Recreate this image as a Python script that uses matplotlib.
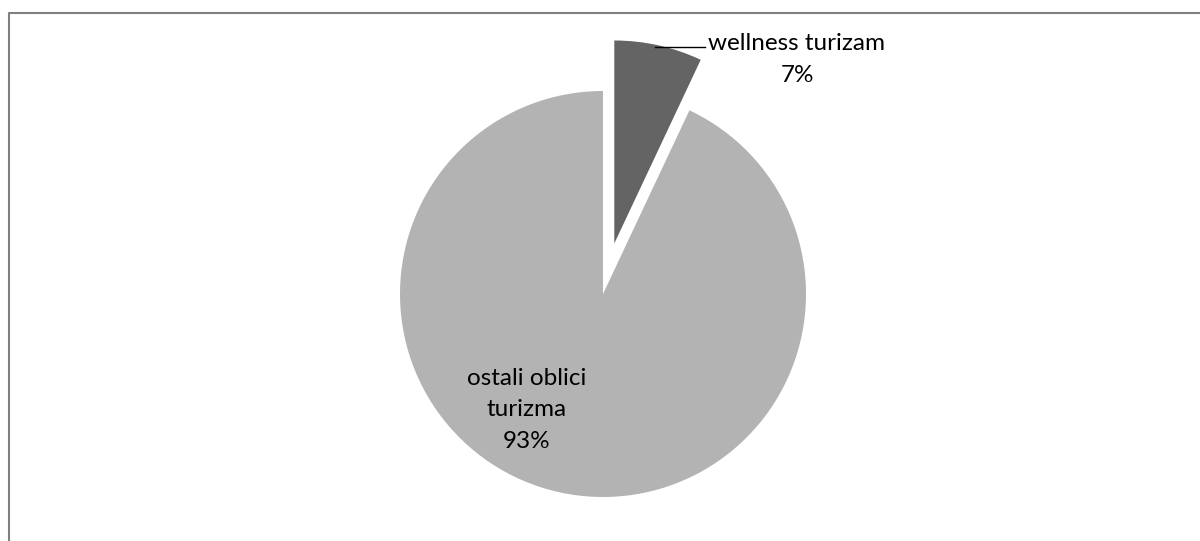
import matplotlib.pyplot as plt

# Data
labels = ["wellness turizam", "ostali oblici turizma"]
shares = [7, 93]
colors = ["#646464", "#b3b3b3"]
explode = [0.255, 0]

plt.rcParams['font.family'] = ['Lato', 'DejaVu Sans']
W, H = 1200, 541

fig = plt.figure(figsize=(12, 5.41), dpi=100)

# pie axes: centre (603, 294) px, radius 203 px
cx, cy, r = 603, 294, 203
pax = fig.add_axes([(cx - r) / W, (H - cy - r) / H, 2 * r / W, 2 * r / H])
wedges, _ = pax.pie(shares, colors=colors, explode=explode, startangle=90,
                    counterclock=False, radius=1,
                    wedgeprops=dict(linewidth=0))
for w in wedges:
    w.set_clip_on(False)
pax.set_xlim(-1, 1)
pax.set_ylim(-1, 1)
pax.axis('off')

# overlay axes in pixel coordinates for labels and border
ax = fig.add_axes([0, 0, 1, 1])
ax.set_xlim(0, W)
ax.set_ylim(H, 0)
ax.axis('off')
ax.patch.set_alpha(0)

# data labels
ax.text(796, 43, labels[0], ha='center', va='center', fontsize=17.5)
ax.text(797, 75, f"{shares[0]}%", ha='center', va='center', fontsize=17.5)
ax.plot([655, 705], [47, 47], color='black', linewidth=1)

ax.text(527, 410, "ostali oblici\nturizma\n" + f"{shares[1]}%",
        ha='center', va='center', fontsize=17.5, linespacing=1.62)

# chart border (top and left visible)
ax.plot([8.5, 8.5, W], [H, 12.5, 12.5], color='#808080',
        linewidth=1.5, clip_on=False)

fig.savefig("out.png", dpi=100)
